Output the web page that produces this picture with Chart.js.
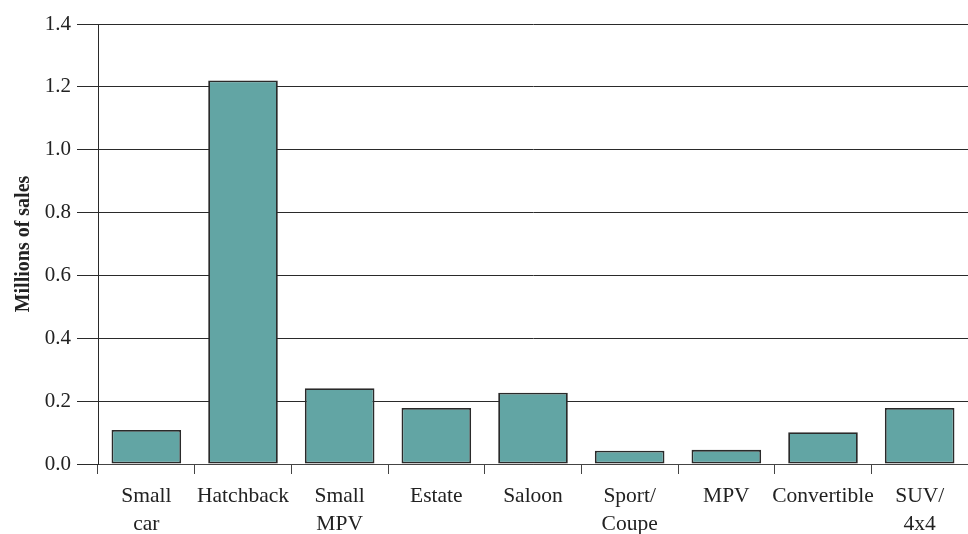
<!DOCTYPE html>
<html>
<head>
<meta charset="utf-8">
<script src="https://cdn.jsdelivr.net/npm/chart.js@4"></script>
<style>
html,body{margin:0;padding:0;background:#fff;}
#wrap{width:968px;height:534px;position:relative;}
</style>
</head>
<body>
<div id="wrap"><canvas id="c" width="968" height="534"></canvas></div>
<script>
const categories = [['Small','car'],'Hatchback',['Small','MPV'],'Estate','Saloon',['Sport/','Coupe'],'MPV','Convertible',['SUV/','4x4']];
const sales = [0.108, 1.22, 0.241, 0.178, 0.227, 0.042, 0.045, 0.101, 0.178];
const yTicks = [0, 0.2, 0.4, 0.6, 0.8, 1.0, 1.2, 1.4];
const yTitle = 'Millions of sales';

const FONT = "'Liberation Serif', 'DejaVu Serif', serif";
const ink = '#2a2a2a';

new Chart(document.getElementById('c'), {
  type: 'bar',
  data: {
    labels: categories,
    datasets: [{
      data: sales,
      backgroundColor: '#62a5a4',
      borderColor: '#2a2a2a',
      borderWidth: 1.8,
      borderSkipped: false,
      barPercentage: 0.72,
      categoryPercentage: 1.0
    }]
  },
  options: {
    responsive: false,
    animation: false,
    devicePixelRatio: 1,
    layout: { padding: { top: 24, right: 0, left: 0, bottom: 0 } },
    plugins: { legend: { display: false }, tooltip: { enabled: false } },
    scales: {
      x: {
        grid: { offset: true, drawOnChartArea: false, drawTicks: true, tickLength: 10, color: '#444', lineWidth: 1 },
        border: { display: true, color: '#444', width: 1 },
        ticks: { color: '#222', font: { family: FONT, size: 21.5, lineHeight: 1.27 }, padding: 9, maxRotation: 0, autoSkip: false },
        afterFit: s => { s.height = 70; }
      },
      y: {
        min: 0, max: 1.4,
        afterBuildTicks: s => { s.ticks = yTicks.map(v => ({ value: v })); },
        grid: { color: ink, lineWidth: 1, drawTicks: true, tickLength: 21 },
        border: { display: true, color: ink, width: 1 },
        ticks: { color: '#222', font: { family: FONT, size: 21 }, padding: 6,
          callback: v => Number(v).toFixed(1) },
        title: { display: true, text: yTitle, color: '#222', font: { family: FONT, size: 20, weight: 'bold' }, padding: { top: 12, bottom: 0 } },
        afterFit: s => { s.width = 98; }
      }
    }
  }
});
</script>
</body>
</html>
